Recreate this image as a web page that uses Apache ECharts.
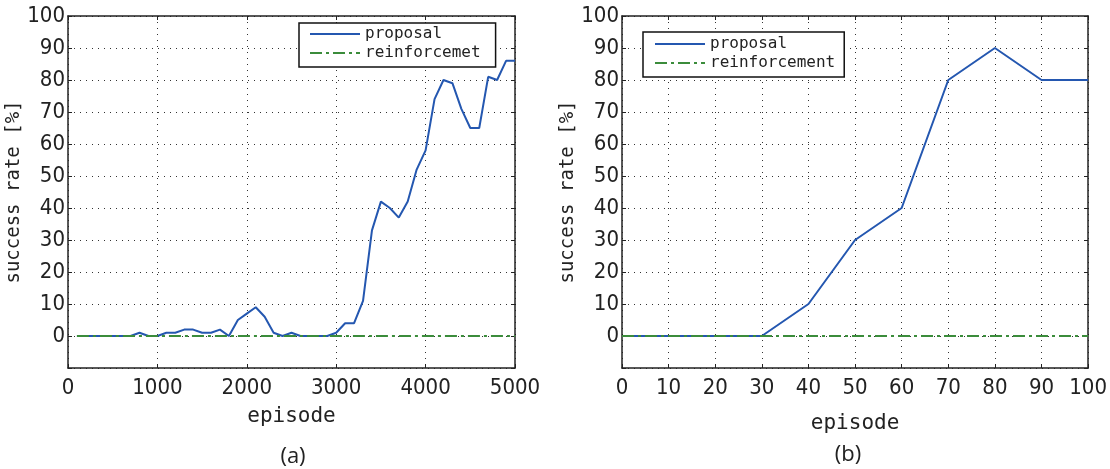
<!DOCTYPE html>
<html><head><meta charset="utf-8">
<script src="https://cdn.jsdelivr.net/npm/echarts@6/dist/echarts.min.js"></script>
<style>html,body{margin:0;padding:0;background:#fff}#c{width:1110px;height:469px}</style>
</head><body><div id="c"></div>
<script>
// (a) episodes and success rates
const episodesA = [100,200,300,400,500,600,700,800,900,1000,1100,1200,1300,1400,1500,1600,1700,1800,1900,2000,2100,2200,2300,2400,2500,2600,2700,2800,2900,3000,3100,3200,3300,3400,3500,3600,3700,3800,3900,4000,4100,4200,4300,4400,4500,4600,4700,4800,4900,5000];
const proposalA = [0,0,0,0,0,0,0,1,0,0,1,1,2,2,1,1,2,0,5,7,9,6,1,0,1,0,0,0,0,1,4,4,11,33,42,40,37,42,52,58,74,80,79,71,65,65,81,80,86,86];
const reinforcemetA = [0,0,0,0,0,0,0,0,0,0,0,0,0,0,0,0,0,0,0,0,0,0,0,0,0,0,0,0,0,0,0,0,0,0,0,0,0,0,0,0,0,0,0,0,0,0,0,0,0,0];
// (b)
const episodesB = [0,10,20,30,40,50,60,70,80,90,100];
const proposalB = [0,0,0,0,10,30,40,80,90,80,80];
const reinforcementB = [0,0,0,0,0,0,0,0,0,0,0];

const BLUE = '#2457b0', GREEN = '#3b8c3b';
const tickFont = {fontFamily:'Liberation Sans Narrow, DejaVu Sans Condensed, sans-serif', fontSize:22, color:'#222'};
const monoFont = 'DejaVu Sans Mono, Liberation Mono, monospace';
const zip = (xs, ys) => xs.map((x,i)=>[x, ys[i]]);

function xAx(gi, max, interval){
  return [{
    gridIndex:gi, type:'value', min:0, max:max, interval:interval, position:'bottom',
    axisLine:{show:true, onZero:false, lineStyle:{color:'#222', width:1.5}},
    axisTick:{show:true, inside:true, length:4, lineStyle:{color:'#222'}},
    axisLabel:Object.assign({margin:9, formatter:v=>String(v)}, tickFont),
    splitLine:{show:true, lineStyle:{type:[1,5], color:'#333', width:1}},
    name:'episode', nameLocation:'middle', nameGap:gi===0?38:45,
    nameTextStyle:{fontFamily:monoFont, fontSize:21, color:'#222'}
  },{
    gridIndex:gi, type:'value', min:0, max:max, interval:interval, position:'top',
    axisLine:{show:true, onZero:false, lineStyle:{color:'#222', width:1.5}},
    axisTick:{show:true, inside:true, length:4, lineStyle:{color:'#222'}},
    axisLabel:{show:false}, splitLine:{show:false}
  }];
}
function yAx(gi){
  return [{
    gridIndex:gi, type:'value', min:-10, max:100, interval:10, position:'left',
    axisLine:{show:true, onZero:false, lineStyle:{color:'#222', width:1.5}},
    axisTick:{show:true, inside:true, length:4, lineStyle:{color:'#222'}},
    axisLabel:Object.assign({margin:3, formatter:v=> v<0?'':String(v)}, tickFont),
    splitLine:{show:true, lineStyle:{type:[1,5], color:'#333', width:1}},
    name:'success rate [%]', nameLocation:'middle', nameGap:gi===0?38:39, nameRotate:90,
    nameTextStyle:{fontFamily:monoFont, fontSize:19, color:'#222'}
  },{
    gridIndex:gi, type:'value', min:-10, max:100, interval:10, position:'right',
    axisLine:{show:true, onZero:false, lineStyle:{color:'#222', width:1.5}},
    axisTick:{show:true, inside:true, length:4, lineStyle:{color:'#222'}},
    axisLabel:{show:false}, splitLine:{show:false}
  }];
}
const xa = xAx(0,5000,1000), xb = xAx(1,100,10);
const ya = yAx(0), yb = yAx(1);

const legendCommon = {
  orient:'vertical', itemWidth:50, itemHeight:14, itemGap:3, itemStyle:{opacity:0},
  borderColor:'#111', borderWidth:1.5, backgroundColor:'#fff', borderRadius:0,
  textStyle:{fontFamily:monoFont, fontSize:16, color:'#222', padding:[0,0,0,0]}, itemTextGap:6,
  selectedMode:false
};

const chart = echarts.init(document.getElementById('c'), null, {renderer:'canvas'});
chart.setOption({
  animation:false,
  grid:[
    {left:68, right:595, top:16, bottom:101},
    {left:622, right:20, top:16, bottom:101}
  ],
  xAxis:[xa[0], xa[1], xb[0], xb[1]],
  yAxis:[ya[0], ya[1], yb[0], yb[1]],
  legend:[
    Object.assign({left:299, top:23, padding:[3,15,6,10], data:['proposal','reinforcemet']}, legendCommon),
    Object.assign({left:643, top:32, padding:[4,9,6,11], data:['proposal','reinforcement']}, legendCommon)
  ],
  title:[
    {text:'(a)', left:288, top:441, textAlign:'center', textStyle:{fontFamily:'Open Sans, sans-serif', fontSize:22, fontWeight:'normal', color:'#222'}},
    {text:'(b)', left:843, top:439, textAlign:'center', textStyle:{fontFamily:'Open Sans, sans-serif', fontSize:22, fontWeight:'normal', color:'#222'}}
  ],
  series:[
    {name:'proposal', type:'line', xAxisIndex:0, yAxisIndex:0, data:zip(episodesA, proposalA), symbol:'none', lineStyle:{color:BLUE, width:2}, itemStyle:{color:BLUE}},
    {name:'reinforcemet', type:'line', xAxisIndex:0, yAxisIndex:0, data:zip(episodesA, reinforcemetA), symbol:'none', lineStyle:{color:GREEN, width:2, type:[12,4,3,4]}, itemStyle:{color:GREEN}},
    {name:'proposal', type:'line', xAxisIndex:2, yAxisIndex:2, data:zip(episodesB, proposalB), symbol:'none', lineStyle:{color:BLUE, width:2}, itemStyle:{color:BLUE}},
    {name:'reinforcement', type:'line', xAxisIndex:2, yAxisIndex:2, data:zip(episodesB, reinforcementB), symbol:'none', lineStyle:{color:GREEN, width:2, type:[12,4,3,4]}, itemStyle:{color:GREEN}}
  ]
});
</script></body></html>
